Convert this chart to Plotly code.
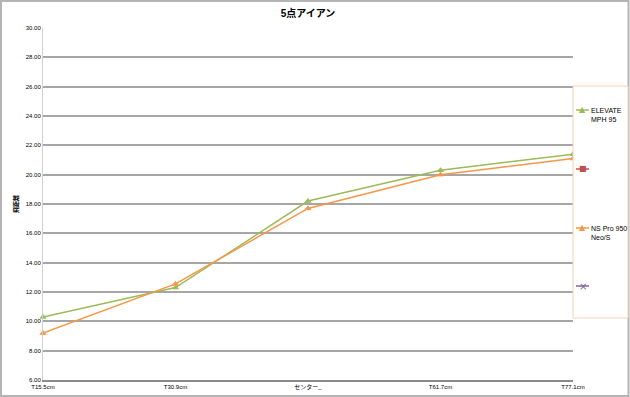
import plotly.graph_objects as go

categories = ["T15.5cm", "T30.9cm", "センター_", "T61.7cm", "T77.1cm"]
elevate = [10.3, 12.3, 18.2, 20.3, 21.4]
nspro = [9.2, 12.55, 17.7, 20.0, 21.1]
series3 = [None, None, None, None, None]
series4 = [None, None, None, None, None]
yticks = [6, 8, 10, 12, 14, 16, 18, 20, 22, 24, 26, 28, 30]

legend_names = ["ELEVATE<br>MPH 95", "", "NS Pro 950<br>Neo/S", ""]
colors = ["#9bbb59", "#c0504d", "#f79646", "#8064a2"]
glyphs = ["▲", "■", "▲", "×"]

FONT = "Liberation Sans, Noto Sans CJK JP, sans-serif"
xs = list(range(len(categories)))

L, R, T, B = 43, 57, 28, 17
W, H = 630, 397
PW, PH = W - L - R, H - T - B


def px(x):
    return (x - L) / PW


def py(y):
    return (H - B - y) / PH


fig = go.Figure()
traces = [elevate, series3, nspro, series4]
symbols = ["triangle-up", "square", "triangle-up", "x-thin-open"]
for vals, c, s, n in zip(traces, colors, symbols, legend_names):
    fig.add_trace(go.Scatter(x=xs, y=vals, name=n, mode="lines+markers",
                             line=dict(color=c, width=1.5),
                             marker=dict(symbol=s, size=5, color=c, line=dict(color=c, width=1)),
                             cliponaxis=False, showlegend=False))

fig.update_layout(
    width=W, height=H,
    margin=dict(l=L, r=R, t=T, b=B, autoexpand=False),
    paper_bgcolor="white", plot_bgcolor="white",
    font=dict(family=FONT, size=6, color="#000000"),
    title=dict(text="<b>5点アイアン</b>", x=0.5, xref="paper", xanchor="center",
               y=1 - 13 / H, yanchor="middle", font=dict(size=10, family=FONT)),
    showlegend=False,
    xaxis=dict(range=[0, 4], tickmode="array", tickvals=xs, ticktext=categories,
               showgrid=False, showline=True, linecolor="#8c8c8c", linewidth=1.5,
               ticks="", tickfont=dict(size=6, family=FONT), zeroline=False),
    yaxis=dict(range=[6, 30], tickmode="array", tickvals=yticks,
               ticktext=[f"{v:.2f}" for v in yticks],
               showgrid=True, gridcolor="#a6a6a6", gridwidth=1.5,
               showline=True, linecolor="#d0d0d0", linewidth=1,
               ticks="", tickfont=dict(size=6, family=FONT), zeroline=False,
               title=dict(text="<b>飛距離</b>", font=dict(size=6, family=FONT), standoff=6)),
)

# outer chart frame
fig.add_shape(type="rect", xref="paper", yref="paper",
              x0=px(1), x1=px(628.5), y0=py(396), y1=py(1),
              line=dict(color="#b4b4b4", width=2), fillcolor="rgba(0,0,0,0)", layer="below")

# legend box
fig.add_shape(type="rect", xref="paper", yref="paper",
              x0=px(573), x1=px(628), y0=py(318), y1=py(86),
              line=dict(color="#fbd0ae", width=1), fillcolor="white", layer="above")

legend_y = [110, 169, 228, 286]
for name, c, g, yy in zip(legend_names, colors, glyphs, legend_y):
    fig.add_shape(type="line", xref="paper", yref="paper",
                  x0=px(576), x1=px(589), y0=py(yy), y1=py(yy),
                  line=dict(color=c, width=1.5))
    fig.add_annotation(x=px(582.5), y=py(yy), xref="paper", yref="paper",
                       text=g, showarrow=False,
                       font=dict(size=8 if g != "×" else 10, color=c,
                                 family="DejaVu Sans"),
                       xanchor="center", yanchor="middle")
    if name:
        fig.add_annotation(x=px(589), y=py(yy - 5), xref="paper", yref="paper",
                           text=name, showarrow=False, align="left",
                           font=dict(size=7, family=FONT, color="#000000"),
                           xanchor="left", yanchor="top")

fig.write_html("out.html")
